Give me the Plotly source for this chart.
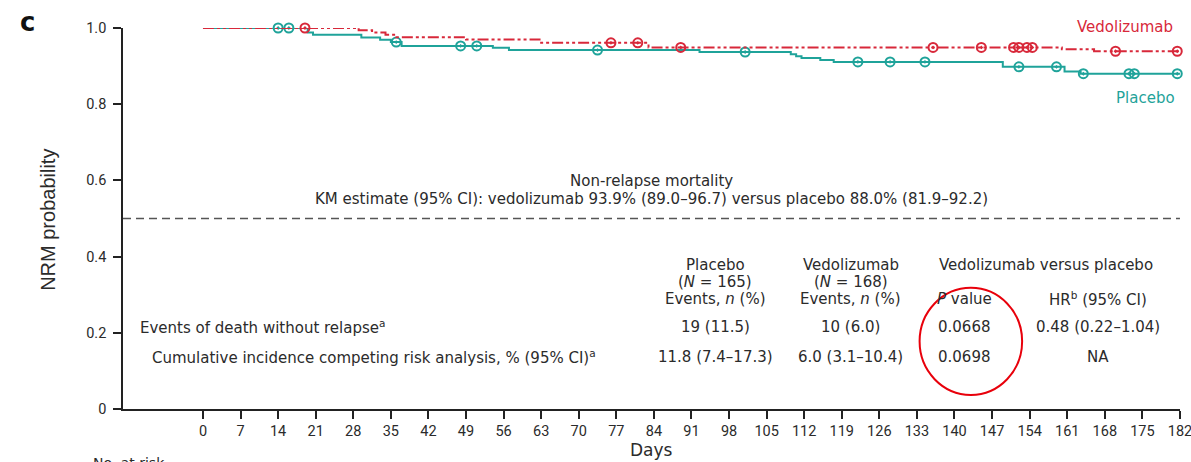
import plotly.graph_objects as go

# Kaplan-Meier non-relapse mortality estimates (step changes)
vedo_step_days = [0, 29, 31.5, 34, 36, 49, 63, 83, 160, 166, 182]
vedo_step_surv = [1.000, 0.994, 0.988, 0.982, 0.976, 0.970, 0.961, 0.949, 0.944, 0.939, 0.939]
vedo_censor_days = [19, 76, 81, 89, 136, 145, 151, 152, 153.5, 154.5, 170, 181.5]

pbo_step_days = [0, 19.5, 20.5, 29.5, 33, 35, 37, 54, 57, 92.5, 109.5, 110.5, 111.5,
                 115, 117.5, 149, 160.5, 163.5, 182]
pbo_step_surv = [1.000, 0.988, 0.982, 0.975, 0.969, 0.963, 0.953, 0.948, 0.942, 0.937,
                 0.931, 0.926, 0.921, 0.916, 0.911, 0.898, 0.886, 0.880, 0.880]
pbo_censor_days = [14, 16, 36, 48, 51, 73.5, 101, 122, 128, 134.5, 152, 159, 164,
                   172.5, 173.5, 181.5]

x_ticks = list(range(0, 183, 7))
y_ticks = [0, 0.2, 0.4, 0.6, 0.8, 1.0]
y_tick_text = ["0", "0.2", "0.4", "0.6", "0.8", "1.0"]

# Summary table
placebo_head = ["Placebo", "(<i>N</i> = 165)", "Events, <i>n</i> (%)"]
vedo_head = ["Vedolizumab", "(<i>N</i> = 168)", "Events, <i>n</i> (%)"]
row_labels = ["Events of death without relapse<sup>a</sup>",
              "Cumulative incidence competing risk analysis, % (95% CI)<sup>a</sup>"]
placebo_vals = ["19 (11.5)", "11.8 (7.4–17.3)"]
vedo_vals = ["10 (6.0)", "6.0 (3.1–10.4)"]
p_vals = ["0.0668", "0.0698"]
hr_vals = ["0.48 (0.22–1.04)", "NA"]

RED = "#d8283a"
TEAL = "#1fa39a"
TXT = "#2b2b2b"
FONT = "DejaVu Sans"

X_MAX = 182.01
X_MIN = -14.9


def surv_at(days, surv, t):
    val = surv[0]
    for d, s in zip(days, surv):
        if d <= t:
            val = s
    return val


def px_x(day):
    # day -> paper fraction
    return (day - X_MIN) / (X_MAX - X_MIN)


fig = go.Figure()

fig.add_trace(go.Scatter(
    x=pbo_step_days, y=pbo_step_surv, mode="lines", line_shape="hv",
    line=dict(color=TEAL, width=2), showlegend=False, cliponaxis=False))
fig.add_trace(go.Scatter(
    x=pbo_censor_days, y=[surv_at(pbo_step_days, pbo_step_surv, t) for t in pbo_censor_days],
    mode="markers", marker=dict(symbol="circle-open-dot", size=9, color=TEAL,
                                line=dict(width=2, color=TEAL)),
    showlegend=False, cliponaxis=False))

fig.add_trace(go.Scatter(
    x=vedo_step_days, y=vedo_step_surv, mode="lines", line_shape="hv",
    line=dict(color=RED, width=2, dash="11px,3px,3px,3px,3px,3px"),
    showlegend=False, cliponaxis=False))
fig.add_trace(go.Scatter(
    x=vedo_censor_days, y=[surv_at(vedo_step_days, vedo_step_surv, t) for t in vedo_censor_days],
    mode="markers", marker=dict(symbol="circle-open-dot", size=9, color=RED,
                                line=dict(width=2, color=RED)),
    showlegend=False, cliponaxis=False))

# dashed reference line at 0.5
fig.add_shape(type="line", xref="x", yref="y", x0=X_MIN, x1=182, y0=0.5, y1=0.5,
              line=dict(color="#555555", width=1.3, dash="8px,5px"))

# highlight ellipse around the P values
fig.add_shape(type="circle", xref="x", yref="y", x0=133.5, x1=152.6, y0=0.037, y1=0.318,
              line=dict(color="#e8000b", width=2))

ann = []


def add_text(x, y, text, size=15, color=TXT, xanchor="center", **kw):
    ann.append(dict(x=px_x(x), y=y, xref="paper", yref="paper", text=text, showarrow=False,
                    xanchor=xanchor, yanchor="middle",
                    font=dict(family=kw.pop("family", FONT), size=size, color=color), **kw))


add_text(-32.6, 1.016, "<b>c</b>", size=26, color="#111111", family="DejaVu Sans")
add_text(171.8, 1.003, "Vedolizumab", size=15, color=RED)
add_text(175.5, 0.816, "Placebo", size=15, color=TEAL)
add_text(83.6, 0.598, "Non-relapse mortality")
add_text(83.6, 0.551, "KM estimate (95% CI): vedolizumab 93.9% (89.0–96.7) versus placebo 88.0% (81.9–92.2)")

head_y = [0.378, 0.333, 0.289]
for i in range(3):
    add_text(95.4, head_y[i], placebo_head[i])
    add_text(120.7, head_y[i], vedo_head[i])
add_text(157.0, 0.378, "Vedolizumab versus placebo")
add_text(141.8, 0.289, "<i>P</i> value")
add_text(166.7, 0.289, "HR<sup>b</sup> (95% CI)")

row_y = [0.215, 0.136]
row_x = [-12.1, -9.9]
for i in range(2):
    add_text(row_x[i], row_y[i], row_labels[i], xanchor="left")
    add_text(95.4, row_y[i], placebo_vals[i])
    add_text(120.7, row_y[i], vedo_vals[i])
    add_text(141.8, row_y[i], p_vals[i])
    add_text(166.7, row_y[i], hr_vals[i])

add_text(-28.9, 0.496, "NRM probability", size=20, textangle=-90, family="Liberation Sans")
add_text(83.6, -0.108, "Days", size=17)
add_text(-13.8, -0.142, "No. at risk", size=14)

fig.update_layout(
    width=1191, height=462,
    margin=dict(l=123, r=11, t=28, b=53),
    plot_bgcolor="white", paper_bgcolor="white",
    annotations=ann,
    font=dict(family=FONT, color=TXT),
    xaxis=dict(range=[X_MIN, X_MAX], tickmode="array", tickvals=x_ticks,
               showgrid=False, zeroline=False, showline=True, linecolor="#222222",
               linewidth=1.6, ticks="outside", ticklen=8, tickwidth=1.6,
               ticklabeloverflow="allow", automargin=False,
               tickcolor="#222222", tickfont=dict(family="Roboto", size=14.5, color=TXT)),
    yaxis=dict(range=[0, 1.0], tickmode="array", tickvals=y_ticks, ticktext=y_tick_text,
               showgrid=False, zeroline=False, showline=True, linecolor="#222222",
               linewidth=1.6, ticks="outside", ticklen=8, tickwidth=1.6, automargin=False,
               ticklabelstandoff=4,
               tickcolor="#222222", tickfont=dict(family="Roboto", size=14.5, color=TXT)),
)

fig.write_html("out.html")
